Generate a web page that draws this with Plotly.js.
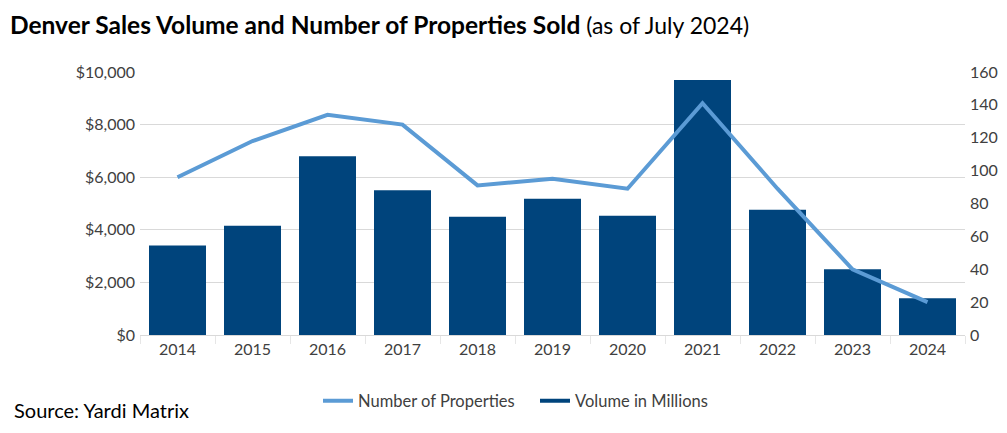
<!DOCTYPE html>
<html>
<head>
<meta charset="utf-8">
<script src="https://cdn.plot.ly/plotly-3.0.1.min.js"></script>
<style>
  html, body { margin: 0; padding: 0; background: #ffffff; }
  #chart { width: 1007px; height: 433px; }
</style>
</head>
<body>
<div id="chart"></div>
<script>
// Denver multifamily sales: annual volume ($M) and number of properties sold
const years = ['2014', '2015', '2016', '2017', '2018', '2019', '2020', '2021', '2022', '2023', '2024'];
const volumeMillions = [3400, 4150, 6800, 5500, 4500, 5180, 4530, 9700, 4760, 2500, 1400];
const propertiesSold = [96, 118, 134, 128, 91, 95, 89, 141, 89, 40, 20];
const volumeTicks = [0, 2000, 4000, 6000, 8000, 10000];
const volumeTickText = ['$0', '$2,000', '$4,000', '$6,000', '$8,000', '$10,000'];
const countTicks = [0, 20, 40, 60, 80, 100, 120, 140, 160];

const FONT = 'Lato, "Open Sans", sans-serif';
const DARK_BLUE = '#00447C';
const LIGHT_BLUE = '#5B9BD5';
const GRID = '#d9d9d9';
const TICK_TEXT = '#404040';

const traces = [
  {
    name: 'Number of Properties',
    type: 'scatter',
    mode: 'lines',
    x: years,
    y: propertiesSold,
    yaxis: 'y2',
    line: { color: LIGHT_BLUE, width: 4 },
    hoverinfo: 'x+y'
  },
  {
    // legend entry drawn as a thick line swatch for the bar series
    name: 'Volume in Millions',
    type: 'scatter',
    mode: 'lines',
    x: [null],
    y: [null],
    line: { color: DARK_BLUE, width: 4 },
    hoverinfo: 'skip'
  },
  {
    name: 'Volume in Millions',
    type: 'bar',
    x: years,
    y: volumeMillions,
    yaxis: 'y',
    marker: { color: DARK_BLUE },
    showlegend: false
  }
];

const layout = {
  width: 1007,
  height: 433,
  margin: { l: 140, r: 42, t: 72, b: 98, pad: 0 },
  paper_bgcolor: '#ffffff',
  plot_bgcolor: '#ffffff',
  font: { family: FONT, size: 16, color: TICK_TEXT },
  bargap: 0.24,
  showlegend: true,
  title: {
    text: '<b>Denver Sales Volume and Number of Properties Sold</b><span style="font-size:23px"> (as of July 2024)</span>',
    font: { family: FONT, size: 24.5, color: '#000000' },
    xref: 'container',
    yref: 'container',
    x: 10 / 1007,
    xanchor: 'left',
    y: 1 - 25 / 433,
    yanchor: 'middle'
  },
  xaxis: {
    type: 'category',
    categoryorder: 'array',
    categoryarray: years,
    showgrid: false,
    showline: true,
    linecolor: GRID,
    linewidth: 1,
    ticks: 'outside',
    tickson: 'boundaries',
    ticklen: 8,
    tickcolor: '#e6e6e6',
    tickfont: { family: FONT, size: 16, color: TICK_TEXT },
    fixedrange: true
  },
  yaxis: {
    range: [0, 10000],
    tickmode: 'array',
    tickvals: volumeTicks,
    ticktext: volumeTickText,
    showgrid: true,
    gridcolor: GRID,
    gridwidth: 1,
    zeroline: false,
    showline: false,
    ticks: '',
    ticklabelstandoff: 4,
    tickfont: { family: FONT, size: 16, color: TICK_TEXT },
    fixedrange: true
  },
  yaxis2: {
    overlaying: 'y',
    side: 'right',
    range: [0, 160],
    tickmode: 'array',
    tickvals: countTicks,
    showgrid: false,
    zeroline: false,
    showline: false,
    ticks: '',
    ticklabelstandoff: 4,
    tickfont: { family: FONT, size: 16, color: TICK_TEXT },
    fixedrange: true
  },
  legend: {
    orientation: 'h',
    x: (318 - 140) / 825,
    xanchor: 'left',
    y: (335 - 401) / 263,
    yanchor: 'middle',
    font: { family: FONT, size: 16.5, color: TICK_TEXT },
    itemwidth: 30,
    entrywidth: 172,
    entrywidthmode: 'pixels',
    tracegroupgap: 0,
    bgcolor: 'rgba(0,0,0,0)'
  },
  annotations: [
    {
      text: 'Source: Yardi Matrix',
      xref: 'paper',
      yref: 'paper',
      x: (12 - 140) / 825,
      xanchor: 'left',
      y: (335 - 410) / 263,
      yanchor: 'middle',
      showarrow: false,
      font: { family: FONT, size: 20, color: '#000000' }
    }
  ]
};

Plotly.newPlot('chart', traces, layout, { displayModeBar: false, staticPlot: true });
</script>
</body>
</html>
